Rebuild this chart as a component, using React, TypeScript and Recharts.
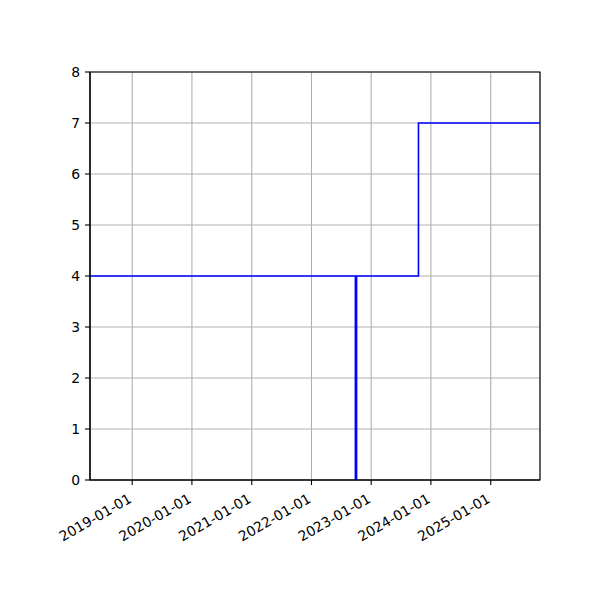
import { CartesianGrid, Line, LineChart, ReferenceArea, XAxis, YAxis } from "recharts";

// step series: value holds until the next date
const stepDates = ["2018-04-18", "2023-10-17", "2025-10-29"];
const stepValues = [4, 7, 7];

// vertical marker line
const markerDates = ["2022-09-30", "2022-09-30"];
const markerValues = [0, 4];

const yearTicks = ["2019-01-01", "2020-01-01", "2021-01-01", "2022-01-01", "2023-01-01", "2024-01-01", "2025-01-01"];
const yTicks = [0, 1, 2, 3, 4, 5, 6, 7, 8];

const toT = (s: string) => Date.parse(s + "T00:00:00Z");
const fmt = (t: number) => new Date(t).toISOString().slice(0, 10);

const stepData = stepDates.map((d, i) => ({ t: toT(d), v: stepValues[i] }));
const markerData = markerDates.map((d, i) => ({ t: toT(d), v: markerValues[i] }));

const X0 = toT(stepDates[0]);
const X1 = toT(stepDates[stepDates.length - 1]);
const FONT = "'DejaVu Sans', sans-serif";

function DateTick({ x, y, payload }: any) {
  const tx = x + 0.5;
  const ty = y + 16.5;
  return (
    <text x={tx} y={ty} textAnchor="end" transform={`rotate(-30, ${tx}, ${ty})`} fontSize={13.9} fontFamily={FONT} fill="#000">
      {fmt(payload.value)}
    </text>
  );
}

export default function App() {
  return (
    <div style={{ position: "absolute", left: 0, top: 0, width: 600, height: 600, background: "#fff" }}>
      <LineChart width={600} height={600} data={stepData} margin={{ top: 72, right: 60, left: 40, bottom: 60 }}>
        <CartesianGrid stroke="#b0b0b0" strokeWidth={1.1} />
        <XAxis
          dataKey="t"
          type="number"
          domain={[X0, X1]}
          allowDataOverflow
          ticks={yearTicks.map(toT)}
          tick={<DateTick />}
          tickSize={5}
          tickMargin={0}
          height={60}
          interval={0}
          stroke="#000"
          tickLine={{ stroke: "#000", strokeWidth: 1.1 }}
          axisLine={{ stroke: "#000", strokeWidth: 1.1 }}
        />
        <YAxis
          type="number"
          domain={[0, 8]}
          ticks={yTicks}
          width={50}
          interval={0}
          tickSize={5}
          tickMargin={5}
          tick={{ fill: "#000", fontSize: 13.9, fontFamily: FONT }}
          tickLine={{ stroke: "#000", strokeWidth: 1.1 }}
          axisLine={{ stroke: "#000", strokeWidth: 1.1 }}
        />
        <Line dataKey="v" type="stepAfter" stroke="#0000ff" strokeWidth={1.6} dot={false} isAnimationActive={false} />
        <Line data={markerData} dataKey="v" type="linear" stroke="#0000ff" strokeWidth={2.8} dot={false} isAnimationActive={false} />
        <ReferenceArea x1={X0} x2={X1} y1={0} y2={8} fill="none" stroke="#000" strokeWidth={1.1} ifOverflow="visible" />
      </LineChart>
    </div>
  );
}
